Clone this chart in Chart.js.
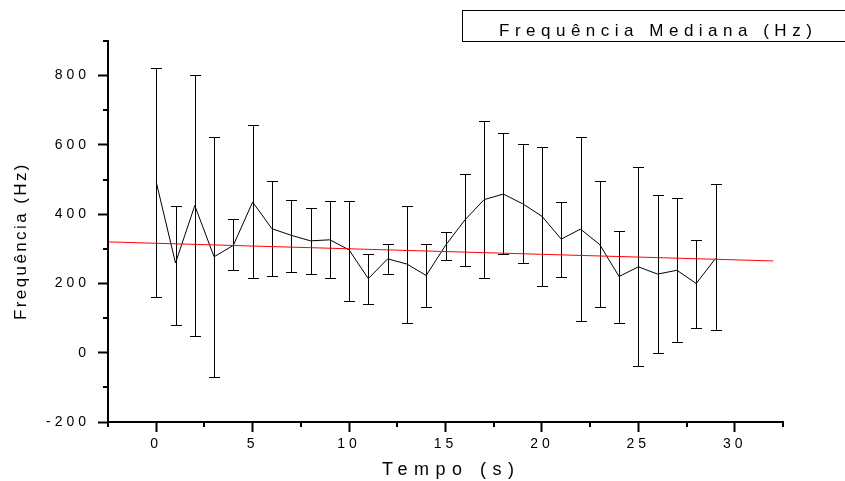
<!DOCTYPE html>
<html>
<head>
<meta charset="utf-8">
<script src="https://cdn.jsdelivr.net/npm/chart.js@4.4.1/dist/chart.umd.min.js"></script>
<style>
html,body{margin:0;padding:0;background:#fff;}
#wrap{width:845px;height:481px;position:relative;}
</style>
</head>
<body>
<div id="wrap"><canvas id="c" width="845" height="481"></canvas></div>
<script>
// ---- data ----
const timeSec = [0,1,2,3,4,5,6,7,8,9,10,11,12,13,14,15,16,17,18,19,20,21,22,23,24,25,26,27,28,29];
const medianFreq = [493,259,425,277,310,435,358,339,323,326,297,214,271,256,223,310,383,442,458,430,394,328,357,312,220,248,227,238,200,272];
const errHigh = [822,425,803,623,385,657,495,441,418,439,439,285,314,425,314,350,517,668,633,603,593,434,622,495,352,535,454,447,325,487];
const errLow = [160,79,47,-71,239,216,221,233,227,215,148,142,228,85,132,269,250,216,285,259,194,218,92,131,87,-39,-1,30,71,65];
const trendX = [-2.5, 32];
const trendY = [320, 265];
const xTickLabels = [0,5,10,15,20,25,30];
const yTickLabels = [-200,0,200,400,600,800];
const legendText = 'Frequência Mediana (Hz)';
const xTitle = 'Tempo (s)';
const yTitle = 'Frequência (Hz)';

const FONT = "'Liberation Sans', Arial, sans-serif";
const TICK_SPACING = '4px';

const spacingPlugin = {
  id: 'spacing',
  beforeLayout(chart){ chart.ctx.letterSpacing = TICK_SPACING; },
  beforeDraw(chart){ chart.ctx.letterSpacing = TICK_SPACING; }
};

const errorBarPlugin = {
  id: 'errorBars',
  beforeDatasetsDraw(chart){
    const ctx = chart.ctx, xs = chart.scales.x, ys = chart.scales.y;
    ctx.save();
    ctx.strokeStyle = '#000';
    ctx.lineWidth = 1;
    ctx.beginPath();
    for (let i = 0; i < timeSec.length; i++){
      const px = Math.round(xs.getPixelForValue(timeSec[i])) + 0.5;
      const ph = Math.round(ys.getPixelForValue(errHigh[i])) + 0.5;
      const pl = Math.round(ys.getPixelForValue(errLow[i])) + 0.5;
      ctx.moveTo(px, ph); ctx.lineTo(px, pl);
      ctx.moveTo(px - 5.5, ph); ctx.lineTo(px + 5.5, ph);
      ctx.moveTo(px - 5.5, pl); ctx.lineTo(px + 5.5, pl);
    }
    ctx.stroke();
    ctx.restore();
  }
};

const decorPlugin = {
  id: 'decor',
  afterDraw(chart){
    const ctx = chart.ctx, xs = chart.scales.x, ys = chart.scales.y;
    const area = chart.chartArea;
    ctx.save();
    // minor ticks
    ctx.strokeStyle = '#000';
    ctx.lineWidth = 2;
    ctx.beginPath();
    xs.ticks.forEach(t => {
      if (!xTickLabels.includes(t.value)) {
        const px = Math.round(xs.getPixelForValue(t.value));
        ctx.moveTo(px, area.bottom); ctx.lineTo(px, area.bottom + 5);
      }
    });
    ys.ticks.forEach(t => {
      if (!yTickLabels.includes(t.value)) {
        const py = Math.round(ys.getPixelForValue(t.value));
        ctx.moveTo(area.left, py); ctx.lineTo(area.left - 5, py);
      }
    });
    ctx.stroke();

    ctx.fillStyle = '#000';
    // legend box
    ctx.lineWidth = 1;
    ctx.strokeRect(462.5, 10.5, 400, 31);
    ctx.font = '17px ' + FONT;
    ctx.letterSpacing = '5.5px';
    ctx.textAlign = 'left';
    ctx.textBaseline = 'alphabetic';
    ctx.fillText(legendText, 499, 36);

    // x title
    ctx.font = '18px ' + FONT;
    ctx.letterSpacing = '6.5px';
    ctx.fillText(xTitle, 382, 475);

    // y title
    ctx.font = '17px ' + FONT;
    ctx.letterSpacing = '2.4px';
    ctx.translate(25.5, 320);
    ctx.rotate(-Math.PI/2);
    ctx.fillText(yTitle, 0, 0);
    ctx.restore();
    ctx.letterSpacing = TICK_SPACING;
  }
};

new Chart(document.getElementById('c'), {
  type: 'line',
  data: {
    datasets: [
      {
        label: 'trend',
        data: trendX.map((x, i) => ({x: x, y: trendY[i]})),
        borderColor: '#ff0000',
        borderWidth: 1,
        pointRadius: 0,
        tension: 0,
        fill: false
      },
      {
        label: legendText,
        data: timeSec.map((x, i) => ({x: x, y: medianFreq[i]})),
        borderColor: '#000',
        borderWidth: 1,
        pointRadius: 0,
        tension: 0,
        fill: false
      }
    ]
  },
  options: {
    responsive: false,
    animation: false,
    devicePixelRatio: 1,
    layout: { padding: { left: 0, top: 41, right: 62, bottom: 0 } },
    plugins: { legend: { display: false }, tooltip: { enabled: false }, title: { display: false } },
    scales: {
      x: {
        type: 'linear',
        min: -2.5, max: 32.5,
        afterFit(s){ s.height = 59; },
        border: { display: true, color: '#000', width: 2 },
        grid: {
          drawOnChartArea: false, drawTicks: true, tickLength: 10, tickWidth: 2,
          tickColor: c => (c.tick && xTickLabels.includes(c.tick.value)) ? '#000' : 'rgba(0,0,0,0)'
        },
        ticks: {
          stepSize: 2.5, autoSkip: false, maxRotation: 0, padding: 4,
          color: '#000', font: { family: FONT, size: 14 },
          callback: v => xTickLabels.includes(v) ? String(v) : ''
        }
      },
      y: {
        type: 'linear',
        min: -200, max: 900,
        afterFit(s){ s.width = 108; },
        border: { display: true, color: '#000', width: 2 },
        grid: {
          drawOnChartArea: false, drawTicks: true, tickLength: 10, tickWidth: 2,
          tickColor: c => (c.tick && yTickLabels.includes(c.tick.value)) ? '#000' : 'rgba(0,0,0,0)'
        },
        ticks: {
          stepSize: 100, autoSkip: false, padding: 8,
          color: '#000', font: { family: FONT, size: 14 },
          callback: v => yTickLabels.includes(v) ? String(v) : ''
        }
      }
    }
  },
  plugins: [spacingPlugin, errorBarPlugin, decorPlugin]
});
</script>
</body>
</html>
